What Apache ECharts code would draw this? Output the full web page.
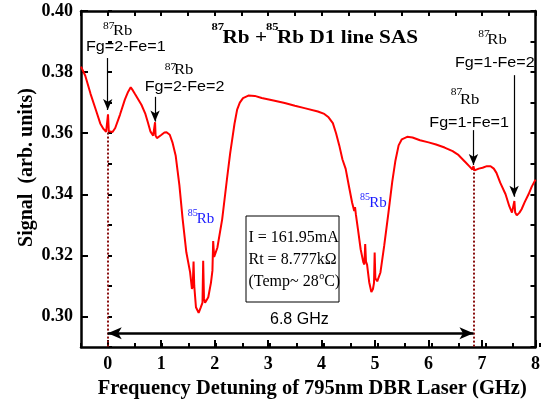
<!DOCTYPE html>
<html><head><meta charset="utf-8">
<script src="https://cdn.jsdelivr.net/npm/echarts@6/dist/echarts.min.js"></script>
<style>html,body{margin:0;padding:0;background:#fff}#c{width:543px;height:406px}</style>
</head><body><div id="c"></div><script>
// ---- data ----
const freqGHz = [-0.5,-0.42,-0.32,-0.22,-0.14,-0.08,-0.03,-0.01,0.005,0.02,0.05,0.09,0.14,0.23,0.32,0.38,0.43,0.47,0.51,0.63,0.70,0.75,0.80,0.85,0.875,0.885,0.895,0.92,1.00,1.06,1.10,1.16,1.21,1.27,1.34,1.40,1.47,1.54,1.575,1.59,1.605,1.618,1.65,1.70,1.74,1.772,1.785,1.80,1.82,1.88,1.93,1.958,1.972,1.99,2.05,2.14,2.23,2.29,2.33,2.37,2.42,2.47,2.53,2.63,2.75,2.88,3.10,3.31,3.50,3.68,3.93,4.05,4.13,4.21,4.27,4.33,4.39,4.45,4.51,4.57,4.61,4.625,4.64,4.68,4.73,4.78,4.80,4.815,4.83,4.85,4.89,4.93,4.96,4.98,4.992,5.005,5.04,5.10,5.17,5.25,5.32,5.38,5.44,5.50,5.60,5.70,5.84,6.00,6.14,6.30,6.45,6.55,6.64,6.70,6.76,6.82,6.84,6.86,6.94,7.01,7.09,7.16,7.22,7.27,7.34,7.44,7.51,7.56,7.59,7.605,7.62,7.65,7.70,7.74,7.80,7.87,7.93,8.00];
const signal = [0.3818,0.3788,0.3728,0.3675,0.3632,0.3614,0.3604,0.3606,0.3662,0.3606,0.3601,0.3604,0.3617,0.3661,0.3710,0.3735,0.3750,0.3740,0.3728,0.3693,0.3665,0.3636,0.3605,0.3592,0.3596,0.3636,0.3592,0.3584,0.3594,0.3602,0.3603,0.3595,0.3570,0.3527,0.3430,0.3320,0.3210,0.3145,0.3090,0.3100,0.3180,0.3100,0.3030,0.3012,0.3030,0.3045,0.3182,0.3060,0.3045,0.3063,0.3110,0.3150,0.3247,0.3195,0.3225,0.3318,0.3450,0.3535,0.3582,0.3630,0.3677,0.3700,0.3715,0.3723,0.3722,0.3715,0.3707,0.3699,0.3690,0.3682,0.3671,0.3663,0.3652,0.3633,0.3600,0.3560,0.3514,0.3483,0.3427,0.3373,0.3345,0.3358,0.3335,0.3285,0.3220,0.3177,0.3170,0.3237,0.3180,0.3170,0.3112,0.3080,0.3090,0.3110,0.3209,0.3125,0.3115,0.3144,0.3231,0.3340,0.3440,0.3510,0.3560,0.3580,0.3588,0.3586,0.3577,0.3570,0.3563,0.3553,0.3541,0.3530,0.3514,0.3503,0.3492,0.3481,0.3492,0.3478,0.3484,0.3487,0.3492,0.3492,0.3484,0.3470,0.3438,0.3400,0.3361,0.3340,0.3338,0.3378,0.3340,0.3331,0.3340,0.3351,0.3375,0.3400,0.3425,0.3448];
const xTickValues = [0,1,2,3,4,5,6,7,8];
const yTickValues = [0.30,0.32,0.34,0.36,0.38,0.40];
const xName = 'Frequency Detuning of 795nm DBR Laser (GHz)';
const yName = 'Signal  (arb. units)';
const splitting = 6.84; // GHz, 87Rb Fg=1-Fe=1 marker
const splittingLabel = '6.8 GHz';
const infoLines = ['I = 161.95mA', 'Rt = 8.777k\u03A9'];

// ---- chart ----
const SERIF = '"Liberation Serif","Times New Roman",serif';
const SANS = '"Liberation Sans",Arial,sans-serif';
const chart = echarts.init(document.getElementById('c'), null, {renderer:'canvas'});
const gridPos = {left:81, right:3, top:11, bottom:59};
const lineData = freqGHz.map((x,i)=>[x, signal[i]]);

const measure = (txt, font) => { const c=document.createElement('canvas').getContext('2d'); c.font=font; return c.measureText(txt).width; };

function T(x, y, text, size, o) {
  o = o || {};
  return {type:'text', x:x, y:y, z:100, scaleX:o.sx||1, style:{text:text, fontSize:size,
    fontFamily:o.ff||SERIF, fontWeight:o.fw||'normal', fill:o.fill||'#000',
    align:o.align||'left', verticalAlign:'middle'}};
}
const ann = 1.15;
const tempFont = '16px "Liberation Serif"';
const tempW = measure('(Temp~ 28', tempFont);

const graphics = [
  // title
  T(211.5, 27, '87', 11, {fw:'bold', sx:1.15}),
  T(222.5, 38.5, 'Rb + ', 18, {fw:'bold', sx:1.18}),
  T(266, 27, '85', 11, {fw:'bold', sx:1.15}),
  T(277, 38.5, 'Rb D1 line SAS', 18, {fw:'bold', sx:1.18}),
  // 87Rb Fg=2-Fe=1
  T(103, 26.5, '87', 10, {sx:ann}),
  T(113, 31, 'Rb', 14.5, {sx:ann}),
  T(86, 47.5, 'Fg=2-Fe=1', 14, {ff:SANS, sx:ann}),
  // 87Rb Fg=2-Fe=2
  T(164.7, 67.8, '87', 10, {sx:ann}),
  T(174, 70.3, 'Rb', 14.5, {sx:ann}),
  T(144.7, 87.3, 'Fg=2-Fe=2', 14, {ff:SANS, sx:ann}),
  // 87Rb Fg=1-Fe=2
  T(478.3, 34.5, '87', 10, {sx:ann}),
  T(487.3, 40, 'Rb', 14.5, {sx:ann}),
  T(455, 63.3, 'Fg=1-Fe=2', 14, {ff:SANS, sx:ann}),
  // 87Rb Fg=1-Fe=1
  T(450.7, 92.8, '87', 10, {sx:ann}),
  T(460, 99.7, 'Rb', 14.5, {sx:ann}),
  T(429.3, 123.3, 'Fg=1-Fe=1', 14, {ff:SANS, sx:ann}),
  // 85Rb labels
  T(187.7, 213.3, '85', 10, {fill:'#1a1aff'}),
  T(196.7, 219.3, 'Rb', 15, {fill:'#1a1aff'}),
  T(360, 197, '85', 10, {fill:'#1a1aff'}),
  T(369.3, 203.3, 'Rb', 15, {fill:'#1a1aff'}),
  // info box
  {type:'rect', z:90, shape:{x:246, y:216, width:93, height:86}, style:{fill:'#fff', stroke:'#000', lineWidth:1}},
  T(248.5, 238, infoLines[0], 16),
  T(248.5, 260, infoLines[1], 16),
  T(248.5, 282, '(Temp~ 28', 16),
  T(248.5+tempW+0.5, 276, 'o', 10),
  T(248.5+tempW+5.5, 282, 'C)', 16),
  // splitting label
  T(270, 320, splittingLabel, 16, {ff:SANS}),
  // y axis name
  {type:'text', x:27, y:167.5, rotation:Math.PI/2, z:100, style:{text:yName, fontSize:20, fontFamily:SERIF, fontWeight:'bold', fill:'#000', align:'center', verticalAlign:'middle'}}
];

const arrowEnd = (x, y, s) => ({coord:[x, y], symbol:'arrow', symbolSize:s});
const plainEnd = (x, y) => ({coord:[x, y], symbol:'none'});
const thin = {color:'#000', width:1.2, type:'solid'};
const dotted = {color:'#8b1010', width:2, type:[2,2]};

const option = {
  animation:false,
  backgroundColor:'#fff',
  grid:[Object.assign({}, gridPos), Object.assign({}, gridPos)],
  xAxis:[
    {gridIndex:0, type:'value', position:'bottom', min:-0.5, max:8,
     name:xName, nameLocation:'middle', nameGap:30,
     nameTextStyle:{fontFamily:SERIF, fontWeight:'bold', fontSize:20.5, color:'#000', padding:[0,0,0,8]},
     axisLine:{onZero:false, lineStyle:{color:'#000', width:2.5}},
     axisTick:{inside:true, length:7, lineStyle:{color:'#000', width:2}, customValues:xTickValues},
     axisLabel:{customValues:xTickValues, fontFamily:SERIF, fontWeight:'bold', fontSize:18, color:'#000', margin:8},
     splitLine:{show:false}},
    {gridIndex:0, type:'value', position:'top', min:-0.5, max:8, interval:0.5,
     axisLine:{onZero:false, lineStyle:{color:'#000', width:2.5}},
     axisTick:{inside:true, length:5, lineStyle:{color:'#000', width:2}},
     axisLabel:{show:false}, splitLine:{show:false}},
    {gridIndex:1, type:'value', position:'bottom', min:-0.5, max:8, interval:0.5,
     axisLine:{show:false},
     axisTick:{inside:true, length:4, lineStyle:{color:'#000', width:2}},
     axisLabel:{show:false}, splitLine:{show:false}}
  ],
  yAxis:[
    {gridIndex:0, type:'value', position:'left', min:0.29, max:0.40,
     axisLine:{onZero:false, lineStyle:{color:'#000', width:2.5}},
     axisTick:{inside:true, length:7, lineStyle:{color:'#000', width:2}, customValues:yTickValues},
     axisLabel:{customValues:yTickValues, formatter:v=>v.toFixed(2), fontFamily:SERIF, fontWeight:'bold', fontSize:18, color:'#000', margin:8},
     splitLine:{show:false}},
    {gridIndex:0, type:'value', position:'right', min:0.29, max:0.40, interval:0.01,
     axisLine:{onZero:false, lineStyle:{color:'#000', width:2.5}},
     axisTick:{inside:true, length:5, lineStyle:{color:'#000', width:2}},
     axisLabel:{show:false}, splitLine:{show:false}},
    {gridIndex:1, type:'value', position:'left', min:0.29, max:0.40, interval:0.01,
     axisLine:{show:false},
     axisTick:{inside:true, length:4, lineStyle:{color:'#000', width:2}},
     axisLabel:{show:false}, splitLine:{show:false}}
  ],
  series:[{
    type:'line', xAxisIndex:0, yAxisIndex:0, data:lineData, showSymbol:false, symbol:'none',
    lineStyle:{color:'#ff0000', width:2}, z:5, clip:false,
    markLine:{silent:true, animation:false, label:{show:false}, symbol:['none','none'],
      data:[
        [plainEnd(0, 0.3602), Object.assign(plainEnd(0, 0.29), {lineStyle:dotted})],
        [Object.assign(plainEnd(splitting, 0.3484), {lineStyle:dotted}), plainEnd(splitting, 0.29)],
        [Object.assign(plainEnd(0, 0.3846), {lineStyle:thin}), arrowEnd(0, 0.3676, [7,11])],
        [Object.assign(plainEnd(0.885, 0.3719), {lineStyle:thin}), arrowEnd(0.885, 0.3638, [7,11])],
        [Object.assign(plainEnd(7.60, 0.3790), {lineStyle:thin}), arrowEnd(7.60, 0.3392, [7,11])],
        [Object.assign(plainEnd(splitting, 0.3610), {lineStyle:thin}), arrowEnd(splitting, 0.3496, [7,11])],
        [Object.assign(arrowEnd(0, 0.2945, [9,14]), {lineStyle:{color:'#000', width:2.5, type:'solid'}}), arrowEnd(splitting, 0.2945, [9,14])]
      ]}
  }],
  graphic:graphics
};
chart.setOption(option);
</script></body></html>
